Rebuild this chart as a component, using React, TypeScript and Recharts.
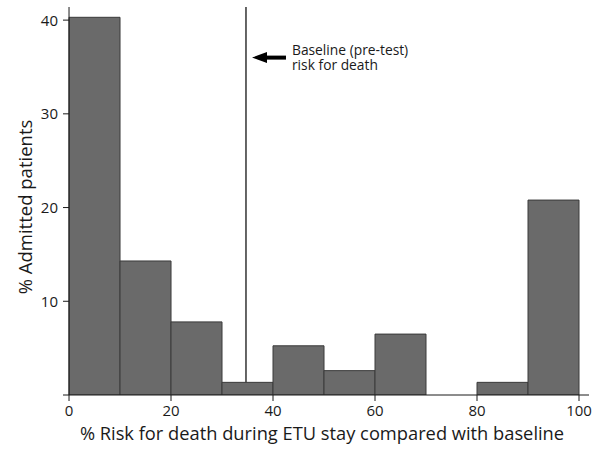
import { BarChart, Bar, XAxis, YAxis, ReferenceLine, ReferenceDot } from "recharts";

document.body.style.margin = "0";

// histogram bins (mid-points of 10-point bins) and % of admitted patients
const binMids = [5, 15, 25, 35, 45, 55, 65, 75, 85, 95];
const admittedPct = [40.3, 14.3, 7.8, 1.35, 5.25, 2.6, 6.5, 0, 1.35, 20.8];
const xTicks = [0, 20, 40, 60, 80, 100];
const yTicks = [10, 20, 30, 40];
const baselineRisk = 34.7;
const arrowAt = 36;

const data = binMids.map((mid, i) => ({ mid, pct: admittedPct[i] }));

const FONT = "'Open Sans', 'Noto Sans', sans-serif";
const INK = "#1a1a1a";

function YTick({ x, y, payload }: any) {
  return (
    <g>
      <line x1={x + 5} x2={x + 11} y1={y} y2={y} stroke={INK} />
      <text x={x} y={y} dy="0.36em" textAnchor="end" fontSize={15} fontFamily={FONT} fill={INK}>
        {payload.value}
      </text>
    </g>
  );
}

function YLabel({ viewBox }: any) {
  const cx = viewBox.x + 24;
  const cy = viewBox.y + viewBox.height / 2 + 6;
  return (
    <text
      x={cx}
      y={cy}
      transform={`rotate(-90, ${cx}, ${cy})`}
      textAnchor="middle"
      dominantBaseline="central"
      fontSize={18.5}
      fontFamily={FONT}
      fill={INK}
    >
      % Admitted patients
    </text>
  );
}

function ArrowNote({ cx, cy }: any) {
  return (
    <g>
      <polygon points={`${cx + 6},${cy} ${cx + 21},${cy - 5.5} ${cx + 21},${cy + 5.5}`} fill="#000" />
      <rect x={cx + 20} y={cy - 2} width={20} height={4} fill="#000" />
      <text x={cx + 46} y={cy - 2.5} fontSize={13.8} fontFamily={FONT} fill={INK}>
        <tspan x={cx + 46}>Baseline (pre-test)</tspan>
        <tspan x={cx + 46} dy={14.5}>risk for death</tspan>
      </text>
    </g>
  );
}

export default function App() {
  return (
    <div style={{ width: 600, height: 456, background: "#fff" }}>
      <BarChart
        width={600}
        height={456}
        data={data}
        margin={{ top: 7, right: 11, bottom: 0, left: 0 }}
        barCategoryGap={0}
        barGap={0}
      >
        <XAxis
          dataKey="mid"
          type="number"
          domain={[-1.18, 101.96]}
          allowDataOverflow
          ticks={xTicks}
          interval={0}
          height={61}
          tickSize={6}
          tickMargin={4}
          stroke={INK}
          tick={{ fontSize: 15, fontFamily: FONT, fill: INK }}
          label={{
            value: "% Risk for death during ETU stay compared with baseline",
            position: "insideBottom",
            offset: 16,
            dx: -4,
            style: { fontSize: 18.3, fontFamily: FONT, fill: INK },
          }}
        />
        <YAxis
          type="number"
          domain={[0, 41.4]}
          allowDataOverflow
          ticks={yTicks}
          interval={0}
          width={63}
          axisLine={false}
          tickLine={false}
          tickSize={0}
          tickMargin={5}
          tick={<YTick />}
          label={<YLabel />}
        />
        <ReferenceLine x={0} stroke={INK} strokeWidth={1} />
        <Bar
          dataKey="pct"
          fill="#6a6a6a"
          stroke="#3a3a3a"
          strokeWidth={1}
          isAnimationActive={false}
        />
        <ReferenceLine
          segment={[
            { x: baselineRisk, y: admittedPct[3] },
            { x: baselineRisk, y: 41.4 },
          ]}
          stroke="#333"
          strokeWidth={1.5}
        />
        <ReferenceDot x={baselineRisk} y={arrowAt} r={0} shape={<ArrowNote />} />
      </BarChart>
    </div>
  );
}
